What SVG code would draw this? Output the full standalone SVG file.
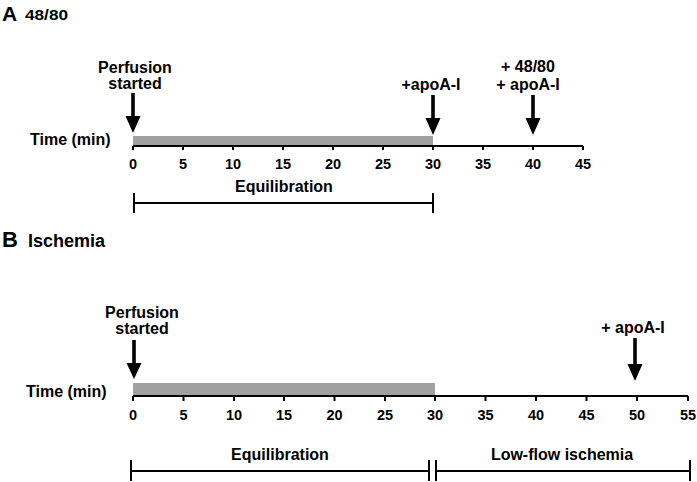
<svg xmlns="http://www.w3.org/2000/svg" width="697" height="482" viewBox="0 0 697 482">
<style>
text{font-family:"Liberation Sans",Arial,sans-serif;font-weight:bold;fill:#000}
.lbl{font-size:16px;text-anchor:middle}
.tk{font-size:14.5px;text-anchor:middle}
.ax{stroke:#000;stroke-width:2;fill:none}
.bar{fill:#a0a0a0}
.arr{fill:#000}
</style>
<g id="panelA">
<text x="2" y="21" style="font-size:21px">A</text>
<text x="25" y="19.5" style="font-size:14.5px" textLength="43" lengthAdjust="spacingAndGlyphs">48/80</text>
<text x="30" y="145" style="font-size:16px">Time (min)</text>
<rect class="bar" x="133" y="136" width="300" height="10"/>
<g id="axisA">
<path class="ax" d="M133,146 H583 M133,146 V150 M183,146 V150 M233,146 V150 M283,146 V150 M333,146 V150 M383,146 V150 M433,146 V150 M483,146 V150 M533,146 V150 M583,146 V150"/>
<text class="tk" x="133" y="169">0</text><text class="tk" x="183" y="169">5</text><text class="tk" x="233" y="169">10</text><text class="tk" x="283" y="169">15</text><text class="tk" x="333" y="169">20</text><text class="tk" x="383" y="169">25</text><text class="tk" x="433" y="169">30</text><text class="tk" x="483" y="169">35</text><text class="tk" x="533" y="169">40</text><text class="tk" x="583" y="169">45</text>
</g>
<g id="A_perf"><text class="lbl" x="135" y="73">Perfusion</text><text class="lbl" x="135" y="89">started</text></g>
<g id="A_apo1"><text class="lbl" x="431" y="90">+apoA-I</text></g>
<g id="A_apo2"><text class="lbl" x="528" y="72">+ 48/80</text><text class="lbl" x="528" y="90">+ apoA-I</text></g>
<g id="A_equil"><text class="lbl" x="284" y="192">Equilibration</text>
<path class="ax" d="M134,203 H433 M134,193 V213 M433,193 V213"/></g>
</g>
<g id="panelB">
<text x="2" y="247" style="font-size:22px">B</text>
<text x="28" y="247" style="font-size:18px">Ischemia</text>
<text x="26" y="397" style="font-size:16px">Time (min)</text>
<rect class="bar" x="133" y="383" width="302" height="13"/>
<g id="axisB">
<path class="ax" d="M133,396 H688 M133,396 V401 M183.5,396 V401 M234,396 V401 M284,396 V401 M334.5,396 V401 M385,396 V401 M435,396 V401 M485.5,396 V401 M536,396 V401 M586.5,396 V401 M637,396 V401 M688,396 V401"/>
<text class="tk" x="133" y="420">0</text><text class="tk" x="183.5" y="420">5</text><text class="tk" x="234" y="420">10</text><text class="tk" x="284" y="420">15</text><text class="tk" x="334.5" y="420">20</text><text class="tk" x="385" y="420">25</text><text class="tk" x="435" y="420">30</text><text class="tk" x="485.5" y="420">35</text><text class="tk" x="536" y="420">40</text><text class="tk" x="586.5" y="420">45</text><text class="tk" x="637" y="420">50</text><text class="tk" x="688" y="420">55</text>
</g>
<g id="B_perf"><text class="lbl" x="142" y="318">Perfusion</text><text class="lbl" x="142" y="334">started</text></g>
<g id="B_apo"><text class="lbl" x="633" y="333">+ apoA-I</text></g>
<g id="B_equil"><text class="lbl" x="280" y="460">Equilibration</text>
<path class="ax" d="M131,471 H429 M131,460 V481 M429,460 V481"/></g>
<g id="B_isch"><text class="lbl" x="562" y="460">Low-flow ischemia</text>
<path class="ax" d="M436,471 H690 M436,460 V481 M690,460 V481"/></g>
</g>
<g id="connectors">
<path class="arr" d="M131.2,93 h3.6 v23 h5.7 L133,133 L125.5,116 h5.7 Z"/>
<path class="arr" d="M431.2,95 h3.6 v23 h5.7 L433,135 L425.5,118 h5.7 Z"/>
<path class="arr" d="M531.2,95 h3.6 v23 h5.7 L533,135 L525.5,118 h5.7 Z"/>
<path class="arr" d="M132.2,340 h3.6 v23 h5.7 L134,379 L126.5,363 h5.7 Z"/>
<path class="arr" d="M633.2,338 h3.6 v26 h5.7 L635,381 L627.5,364 h5.7 Z"/>
</g>
</svg>
